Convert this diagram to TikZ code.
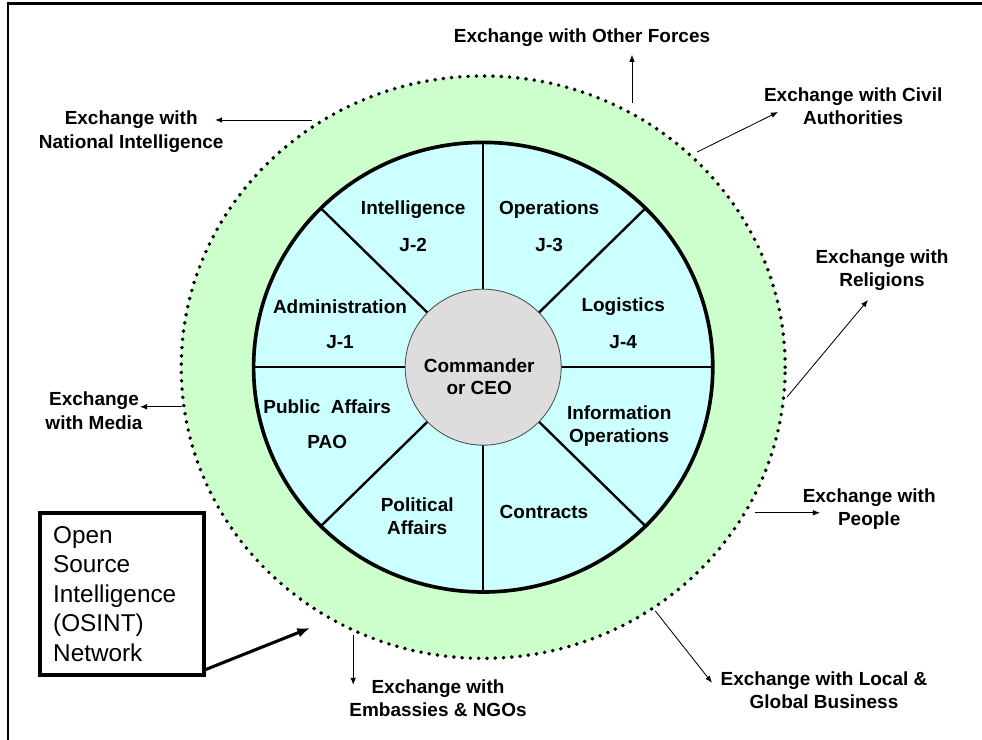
\documentclass[tikz,border=0pt]{standalone}
\usepackage{fontspec}
\setmainfont{Liberation Sans}
\usetikzlibrary{arrows.meta, positioning, calc}
\definecolor{ringgreen}{RGB}{204, 255, 204}
\definecolor{cellblue}{RGB}{204, 255, 255}
\definecolor{hubgray}{RGB}{221, 221, 221}
\tikzset{
    cell/.style={font=\fontsize{13.5}{16}\selectfont\bfseries, align=center, inner sep=1pt},
    exlabel/.style={font=\fontsize{13.5}{16.5}\selectfont\bfseries, align=center, inner sep=1pt},
    xarrow/.style={-{Latex[length=5pt, width=4pt]}, line width=0.6pt},
}

\begin{document}
\begin{tikzpicture}
    \useasboundingbox (0,0) rectangle (24.55,18.5);

    % Frame
    \draw[line width=1.8pt] (0.2,0) -- (0.2,18.41) -- (24.55,18.41);

    \coordinate (hub) at (12.08,9.32);

    % Outer exchange ring
    \fill[ringgreen] (hub) ellipse [x radius=7.55, y radius=7.28];
    \draw[line width=2.8pt, line cap=round, dash pattern=on 0pt off 5.9pt] (hub) ellipse [x radius=7.55, y radius=7.28];

    % Staff wheel
    \filldraw[fill=cellblue, line width=2.6pt] (hub) ellipse [x radius=5.74, y radius=5.62];
    \foreach \a in {0,45,...,315} {
        \draw[line width=1.7pt, shift={(hub)}] (0,0) -- (\a:5.74 and 5.62);
    }

    % Hub
    \node[circle, draw=black!70, line width=0.6pt, fill=hubgray, minimum size=3.9cm] (ceo) at (hub) {};
    \node[cell] (ceo-text) at ($(hub)+(-0.1,-0.24)$) {Commander\\or CEO};

    % Staff cells with codes
    \foreach \n/\x/\y/\t/\c in {j2/10.33/13.25/Intelligence/J-2, j3/13.73/13.25/Operations/J-3, j1/8.5/10.83/Administration/J-1, j4/15.58/10.83/Logistics/J-4, pao/8.18/8.33/Public~~Affairs/PAO} {
        \node[cell] (\n) at (\x,\y) {\t};
        \node[cell] (\n-c) at (\x,\y-0.87) {\c};
    }
    \node[cell] (info) at (15.48,7.85) {Information\\Operations};
    \node[cell] (polit) at (10.43,5.59) {Political\\Affairs};
    \node[cell] (contr) at (13.6,5.7) {Contracts};

    % Exchange labels
    \foreach \n/\x/\y/\t in {forces/14.55/17.55/Exchange with Other Forces, natint/3.28/15.21/Exchange with\\National Intelligence, civil/21.33/15.84/Exchange with Civil\\Authorities, relig/22.05/11.74/Exchange with\\Religions, media/2.35/8.23/Exchange\\with Media, people/21.73/5.78/Exchange with\\People, business/20.6/1.25/Exchange with Local \&\\Global Business, embassy/10.95/1.04/Exchange with\\Embassies \& NGOs} {
        \node[exlabel] (\n) at (\x,\y) {\t};
    }

    % Exchange arrows
    \foreach \n/\ax/\ay/\bx/\by in {forces/15.8/15.93/15.8/17.13, natint/7.8/15.5/5.38/15.5, civil/17.43/14.7/19.45/15.7, relig/19.68/8.58/21.7/11.0, media/4.55/8.33/3.5/8.33, people/18.88/5.68/20.5/5.68, business/16.38/3.23/17.8/1.43, embassy/8.83/2.63/8.83/1.38} {
        \coordinate (\n-from) at (\ax,\ay);
        \coordinate (\n-to) at (\bx,\by);
        \draw[xarrow] (\n-from) -- (\n-to);
    }

    % OSINT box
    \node[draw, line width=2.6pt, font=\fontsize{17.3}{21}\selectfont, align=left, text width=3.44cm, minimum height=4.05cm, inner xsep=0.33cm] (osint) at (3.05,3.65) {Open\\Source\\Intelligence\\(OSINT)\\Network};
    \coordinate (osint-tip) at (7.75,2.8);
    \draw[line width=2.2pt, -{Latex[length=9pt, width=7pt]}] (osint.-42) -- (osint-tip);
\end{tikzpicture}
\end{document}
